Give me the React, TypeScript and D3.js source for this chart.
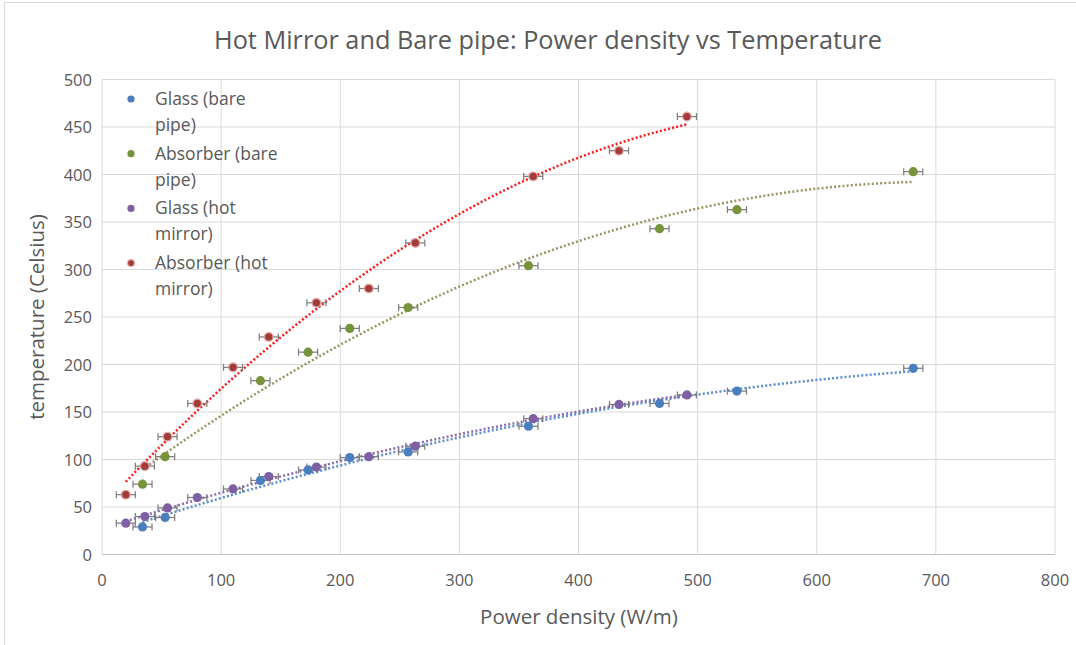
import React from "react";
import * as d3 from "d3";

const W = 1076;
const H = 645;

const titleText = "Hot Mirror and Bare pipe: Power density vs Temperature";
const xTicks = [0, 100, 200, 300, 400, 500, 600, 700, 800];
const yTicks = [0, 50, 100, 150, 200, 250, 300, 350, 400, 450, 500];

// Bare pipe series
const bareX = [34, 53, 133, 173, 208, 257, 358, 468, 533, 681];
const glassBareY = [29, 39, 78, 89, 102, 108, 135, 159, 172, 196];
const absorberBareY = [74, 103, 183, 213, 238, 260, 304, 343, 363, 403];

// Hot mirror series
const mirrorX = [20, 36, 55, 80, 110, 140, 180, 224, 263, 362, 434, 491];
const glassMirrorY = [33, 40, 49, 60, 69, 82, 92, 103, 114, 143, 158, 168];
const absorberMirrorY = [63, 93, 124, 159, 197, 229, 265, 280, 328, 398, 425, 461];

const xErr = 8;

const seriesNames = ["Glass (bare pipe)", "Absorber (bare pipe)", "Glass (hot mirror)", "Absorber (hot mirror)"];
const legendLines = [["Glass (bare", "pipe)"], ["Absorber (bare", "pipe)"], ["Glass (hot", "mirror)"], ["Absorber (hot", "mirror)"]];
const markerColors = ["#4a7ebf", "#77933c", "#7f5fa3", "#a33b38"];
const trendColors = ["#5b8ed0", "#9b9461", "#8a6db0", "#ff1a1a"];

type Series = { name: string; xs: number[]; ys: number[]; i: number };
const series: Series[] = [
  { name: seriesNames[0], xs: bareX, ys: glassBareY, i: 0 },
  { name: seriesNames[1], xs: bareX, ys: absorberBareY, i: 1 },
  { name: seriesNames[2], xs: mirrorX, ys: glassMirrorY, i: 2 },
  { name: seriesNames[3], xs: mirrorX, ys: absorberMirrorY, i: 3 },
];

// least squares quadratic (Excel polynomial trendline, order 2)
function quadFit(xs: number[], ys: number[]) {
  let s0 = 0, s1 = 0, s2 = 0, s3 = 0, s4 = 0, t0 = 0, t1 = 0, t2 = 0;
  xs.forEach((x, k) => {
    const y = ys[k];
    s0 += 1; s1 += x; s2 += x * x; s3 += x * x * x; s4 += x * x * x * x;
    t0 += y; t1 += x * y; t2 += x * x * y;
  });
  const M = [
    [s0, s1, s2, t0],
    [s1, s2, s3, t1],
    [s2, s3, s4, t2],
  ];
  for (let c = 0; c < 3; c++) {
    let p = c;
    for (let r = c + 1; r < 3; r++) if (Math.abs(M[r][c]) > Math.abs(M[p][c])) p = r;
    [M[c], M[p]] = [M[p], M[c]];
    for (let r = 0; r < 3; r++) {
      if (r === c) continue;
      const f = M[r][c] / M[c][c];
      for (let k = c; k < 4; k++) M[r][k] -= f * M[c][k];
    }
  }
  const a = M[0][3] / M[0][0], b = M[1][3] / M[1][1], cc = M[2][3] / M[2][2];
  return (x: number) => a + b * x + cc * x * x;
}

export default function App() {
  const left = 102, right = 1055, top = 79.5, bottom = 554.5;
  const x = d3.scaleLinear().domain([0, 800]).range([left, right]);
  const y = d3.scaleLinear().domain([0, 500]).range([bottom, top]);

  const font = "'Open Sans', 'Liberation Sans', sans-serif";
  const gray = "#595959";

  const trend = (s: Series) => {
    const f = quadFit(s.xs, s.ys);
    const x0 = d3.min(s.xs)!, x1 = d3.max(s.xs)!;
    const pts = d3.range(0, 101).map((k) => {
      const xv = x0 + ((x1 - x0) * k) / 100;
      return [xv, f(xv)] as [number, number];
    });
    return d3.line<[number, number]>().x((d) => x(d[0])).y((d) => y(d[1]))(pts) || "";
  };

  return (
    <svg width={W} height={H} style={{ position: "absolute", left: 0, top: 0, background: "#fff" }}>
      <rect x={0} y={0} width={W} height={H} fill="#fff" />
      <line x1={4.5} y1={2.5} x2={4.5} y2={H} stroke="#d9d9d9" />
      <line x1={4.5} y1={2.5} x2={W} y2={2.5} stroke="#d9d9d9" />

      <text x={548} y={49} textAnchor="middle" fontFamily={font} fontSize={25} fill={gray} textLength={668} lengthAdjust="spacingAndGlyphs">
        {titleText}
      </text>

      {/* grid */}
      {yTicks.map((t) => (
        <line key={"gy" + t} x1={left} x2={right} y1={y(t)} y2={y(t)} stroke={t === 0 ? "#bfbfbf" : "#d9d9d9"} strokeWidth={1} />
      ))}
      {xTicks.map((t) => (
        <line key={"gx" + t} x1={x(t)} x2={x(t)} y1={top} y2={bottom} stroke="#d9d9d9" strokeWidth={1} />
      ))}

      {/* tick labels */}
      {yTicks.map((t) => (
        <text key={"ty" + t} x={left - 10} y={y(t) + 6} textAnchor="end" fontFamily={font} fontSize={16.5} fill={gray}>
          {t}
        </text>
      ))}
      {xTicks.map((t) => (
        <text key={"tx" + t} x={x(t)} y={bottom + 31} textAnchor="middle" fontFamily={font} fontSize={16.5} fill={gray}>
          {t}
        </text>
      ))}

      <text x={579} y={624} textAnchor="middle" fontFamily={font} fontSize={20.5} fill={gray}>
        Power density (W/m)
      </text>
      <text transform={`translate(44,${(top + bottom) / 2}) rotate(-90)`} textAnchor="middle" fontFamily={font} fontSize={20.5} fill={gray}>
        temperature (Celsius)
      </text>

      {/* trendlines */}
      {series.map((s) => (
        <path key={"tr" + s.i} d={trend(s)} fill="none" stroke={trendColors[s.i]} strokeWidth={2.5} strokeDasharray="2 2.2" />
      ))}

      {/* error bars */}
      {series.map((s) =>
        s.xs.map((xv, k) => {
          const yy = y(s.ys[k]);
          const xa = x(xv - xErr), xb = x(xv + xErr);
          return (
            <g key={"eb" + s.i + "_" + k} stroke="#7f7f7f" strokeWidth={1.25}>
              <line x1={xa} x2={xb} y1={yy} y2={yy} />
              <line x1={xa} x2={xa} y1={yy - 3.5} y2={yy + 3.5} />
              <line x1={xb} x2={xb} y1={yy - 3.5} y2={yy + 3.5} />
            </g>
          );
        })
      )}

      {/* markers */}
      {series.map((s) =>
        s.xs.map((xv, k) =>
          s.i === 3 ? (
            <g key={"m" + s.i + "_" + k}>
              <circle cx={x(xv)} cy={y(s.ys[k])} r={5} fill="#d99a98" opacity={0.85} />
              <circle cx={x(xv)} cy={y(s.ys[k])} r={3.6} fill={markerColors[3]} />
            </g>
          ) : (
            <circle key={"m" + s.i + "_" + k} cx={x(xv)} cy={y(s.ys[k])} r={4.6} fill={markerColors[s.i]} />
          )
        )
      )}

      {/* legend */}
      {legendLines.map((ls, i) => {
        const ly = 99 + i * 54.7;
        return (
          <g key={"lg" + i}>
            {i === 3 ? (
              <g>
                <circle cx={131} cy={ly} r={4} fill="#d99a98" opacity={0.85} />
                <circle cx={131} cy={ly} r={2.8} fill={markerColors[3]} />
              </g>
            ) : (
              <circle cx={131} cy={ly} r={3.6} fill={markerColors[i]} />
            )}
            {ls.map((t, j) => (
              <text key={j} x={155} y={ly + 6 + j * 26} fontFamily={font} fontSize={17.5} fill={gray}>
                {t}
              </text>
            ))}
          </g>
        );
      })}
    </svg>
  );
}
